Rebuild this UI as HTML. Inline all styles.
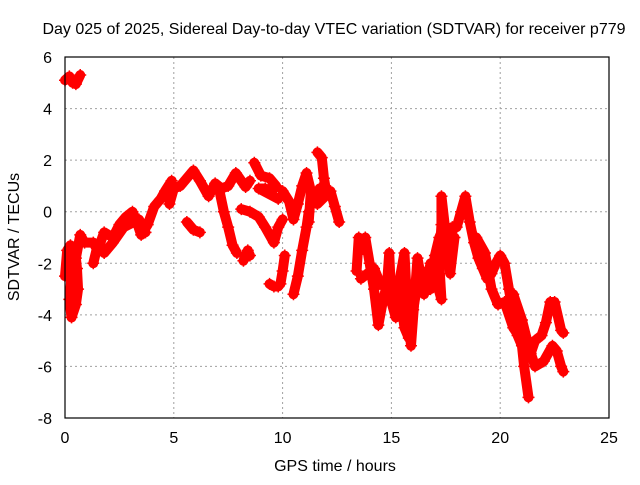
<!DOCTYPE html>
<html><head><meta charset="utf-8"><style>
body{margin:0;background:#fff}
svg text{font-family:"Liberation Sans",sans-serif;font-size:16px;fill:#000}
</style></head><body>
<svg width="640" height="480" xmlns="http://www.w3.org/2000/svg">
<rect width="640" height="480" fill="#fff"/>
<g id="grid"></g>
<g id="data"></g>
<rect x="65" y="57" width="544" height="361" fill="none" stroke="#000" stroke-width="1.2"/>
<g id="ticks"></g>
<text x="334" y="34" text-anchor="middle">Day 025 of 2025, Sidereal Day-to-day VTEC variation (SDTVAR) for receiver p779</text>
<text x="335" y="471" text-anchor="middle">GPS time / hours</text>
<text x="0" y="0" text-anchor="middle" transform="translate(19,237) rotate(-90)">SDTVAR / TECUs</text>
</svg>
<script>
const xTicks=[0,5,10,15,20,25];
const yTicks=[-8,-6,-4,-2,0,2,4,6];
const trackTop=[[0,5.1],[0.2,5.25],[0.35,5.0],[0.5,4.95],[0.7,5.3]];
const trackA=[[0,-2.5],[0.1,-1.5],[0.25,-1.3],[0.3,-2.5],[0.2,-3.4],[0.3,-4.1],[0.5,-3.6],[0.6,-3.0],[0.55,-2.2],[0.5,-1.8],[0.7,-0.9],[0.9,-1.2],[1.3,-1.2],[1.5,-1.5],[1.8,-0.8],[2.2,-1.0],[2.5,-0.5],[2.8,-0.2],[3.1,0.0],[3.3,-0.4],[3.5,-0.9],[3.8,-0.5],[4.1,0.2],[4.4,0.5],[4.6,0.8],[4.9,1.2],[4.8,0.3],[5.0,0.9],[5.3,1.0],[5.6,1.3],[5.9,1.6],[6.2,1.2],[6.6,0.6],[6.9,1.1],[7.2,0.9],[7.5,1.0],[7.85,1.5],[8.3,0.96],[8.5,1.2]];
const trackLow=[[1.3,-2.0],[1.5,-1.3],[1.8,-1.6],[2.2,-1.2],[2.7,-0.6],[3.4,-0.3],[3.7,-0.8]];
const trackB=[[5.6,-0.4],[5.9,-0.7],[6.2,-0.8]];
const trackC=[[7.1,0.8],[7.3,0.0],[7.5,-0.6],[7.7,-1.3],[7.9,-1.6]];
const trackD=[[8.2,-1.9],[8.4,-1.5],[8.5,-1.7]];
const trackE=[[8.1,0.1],[8.5,0.0],[8.9,-0.2],[9.2,-0.6],[9.6,-1.2],[9.8,-0.6],[10.0,-0.3]];
const trackF=[[8.7,1.9],[9.0,1.4],[9.4,1.3],[9.7,1.0],[9.5,0.8],[9.2,0.9],[8.9,0.9],[9.8,0.5]];
const trackG=[[9.4,-2.8],[9.6,-2.9],[9.8,-2.9]];
const trackH=[[9.9,-2.8],[10.0,-2.3],[10.1,-1.7]];
const trackI=[[10.0,0.8],[10.3,0.4],[10.5,-0.3],[10.7,0.3],[10.9,1.0],[11.1,1.5],[11.3,0.8],[11.2,-0.4]];
const trackJ=[[10.5,-3.2],[10.7,-2.5],[10.9,-1.5],[11.1,-0.6],[11.2,0.0]];
const trackK=[[11.6,2.3],[11.8,2.1],[11.9,1.3],[12.0,0.8],[11.7,0.9],[11.6,0.3],[12.2,0.8],[12.4,0.2],[12.6,-0.4]];
const trackL=[[13.4,-2.3],[13.5,-1.0],[13.6,-1.5],[13.8,-1.0],[14.0,-2.0],[14.2,-3.0],[14.4,-4.4],[14.6,-3.5],[14.8,-2.8],[14.9,-1.6],[15.0,-3.5],[15.2,-4.1],[15.4,-3.2],[15.6,-4.5],[15.8,-4.9],[16.0,-3.8],[16.2,-2.8],[16.4,-2.3],[16.6,-2.5],[16.8,-3.0],[17.0,-1.7],[17.2,-1.0],[17.4,-0.6],[17.6,-1.8],[17.8,-0.6],[18.0,-0.6],[18.2,0.0],[18.4,0.6],[18.6,-0.4],[18.8,-1.2],[19.0,-1.8],[19.2,-2.2],[19.4,-2.6],[19.6,-2.4],[19.8,-2.0],[20.0,-1.7],[20.2,-2.0],[20.4,-3.0],[20.6,-4.0],[20.8,-4.8],[21.0,-5.2],[21.1,-6.0],[21.3,-7.2]];
const trackM=[[13.6,-2.6],[13.9,-2.4],[14.2,-2.2],[14.5,-2.8],[15.0,-2.6],[15.3,-3.0],[15.6,-1.6],[15.7,-3.2],[15.9,-5.2],[16.2,-1.8],[16.5,-3.2],[16.8,-2.0],[17.0,-2.5],[17.3,-3.4],[17.2,-2.0],[17.3,-0.5],[17.3,0.6],[17.7,-2.4],[17.9,-1.0]];
const trackN=[[18.9,-1.0],[19.3,-1.6],[19.6,-3.0],[19.9,-3.6],[20.2,-3.5],[20.6,-4.5],[21.0,-5.0],[21.4,-5.5],[21.6,-5.0],[21.9,-4.8],[22.1,-4.3],[22.3,-3.5],[22.5,-3.5],[22.8,-4.6],[22.9,-4.7]];
const trackO=[[20.6,-3.2],[21.0,-4.2],[21.3,-5.2],[21.6,-6.0],[22.0,-5.8],[22.4,-5.2],[22.6,-5.4],[22.8,-6.0],[22.9,-6.2]];
const tracks=[trackTop,trackA,trackLow,trackB,trackC,trackD,trackE,trackF,trackG,trackH,trackI,trackJ,trackK,trackL,trackM,trackN,trackO];
const NS="http://www.w3.org/2000/svg";
function xs(t){return 65+t*(544/25);}
function ys(v){return 418-(v+8)*(361/14);}
const grid=document.getElementById('grid'),ticks=document.getElementById('ticks'),data=document.getElementById('data');
xTicks.forEach(t=>{
 const x=xs(t);
 if(t>0&&t<25){const l=document.createElementNS(NS,'line');
 
 
 l.setAttribute('x1',x);l.setAttribute('x2',x);l.setAttribute('y1',57);l.setAttribute('y2',418);
 l.setAttribute('stroke','#a0a0a0');l.setAttribute('stroke-dasharray','2,3');grid.appendChild(l);}
 const tk=document.createElementNS(NS,'text');
 
 
 tk.setAttribute('x',x);tk.setAttribute('y',443);tk.setAttribute('text-anchor','middle');tk.textContent=t;ticks.appendChild(tk);
});
yTicks.forEach(v=>{
 const y=ys(v);
 if(v>-8&&v<6){const l=document.createElementNS(NS,'line');
 
 
 l.setAttribute('x1',65);l.setAttribute('x2',609);l.setAttribute('y1',y);l.setAttribute('y2',y);
 l.setAttribute('stroke','#a0a0a0');l.setAttribute('stroke-dasharray','2,3');grid.appendChild(l);}
 const tk=document.createElementNS(NS,'text');
 
 
 tk.setAttribute('x',52);tk.setAttribute('y',y+6);tk.setAttribute('text-anchor','end');tk.textContent=v;ticks.appendChild(tk);
});
tracks.forEach(tr=>{
 const p=document.createElementNS(NS,'polyline');
 
 
 p.setAttribute('points',tr.map(d=>xs(d[0])+','+ys(d[1])).join(' '));
 p.setAttribute('fill','none');p.setAttribute('stroke','#ff0000');p.setAttribute('stroke-width','10');p.setAttribute('stroke-linejoin','round');p.setAttribute('stroke-linecap','round');
 data.appendChild(p);
 tr.forEach(d=>{
  const x=xs(d[0]),y=ys(d[1]);
  const m=document.createElementNS(NS,'path');
  
  
  m.setAttribute('d',`M${x-6},${y}H${x+6}M${x},${y-6}V${y+6}`);
  m.setAttribute('stroke','#ff0000');m.setAttribute('stroke-width','1.5');
  data.appendChild(m);
 });
});
</script>
</body></html>
